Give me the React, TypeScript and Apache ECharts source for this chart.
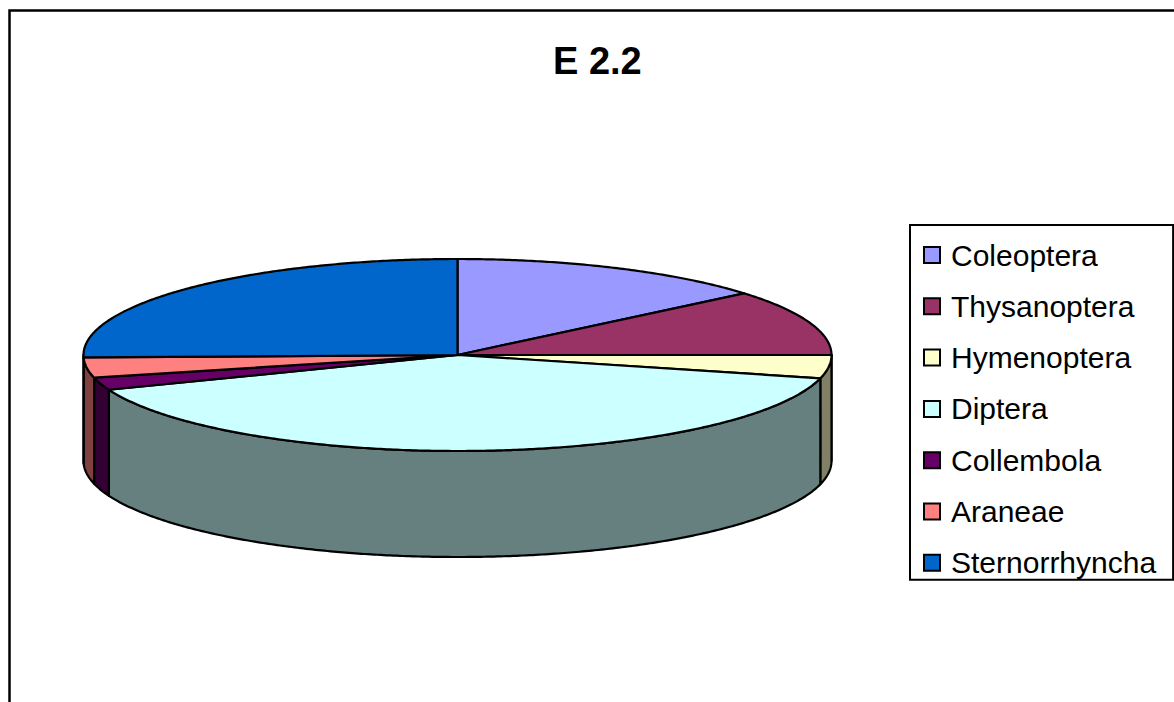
import React, { useEffect, useRef } from "react";
import * as echarts from "echarts";

// Insect orders found in sample E 2.2 (share of individuals, %)
const categories = [
  "Coleoptera",
  "Thysanoptera",
  "Hymenoptera",
  "Diptera",
  "Collembola",
  "Araneae",
  "Sternorrhyncha",
];
const shares = [13.9, 11.1, 3.9, 40.2, 2.1, 3.4, 25.4];
const topColors = ["#9999FF", "#993366", "#FFFFCC", "#CCFFFF", "#660066", "#FF8080", "#0066CC"];

// darker shade used for the outer wall of each slice
const shade = (hex: string) => {
  const n = parseInt(hex.slice(1), 16);
  const r = Math.round(((n >> 16) & 255) / 2);
  const g = Math.round(((n >> 8) & 255) / 2);
  const b = Math.round((n & 255) / 2);
  return `rgb(${r},${g},${b})`;
};

// tilted-disc geometry
const CX = 457.5;
const CY = 355;
const RX = 374;
const RY = 96;
const DEPTH = 106;

const rad = (d: number) => (d * Math.PI) / 180;
const rimPoint = (deg: number, dy = 0) => [CX + RX * Math.cos(rad(deg)), CY - RY * Math.sin(rad(deg)) + dy];

const arc = (from: number, to: number, dy = 0) => {
  const steps = Math.max(2, Math.ceil(Math.abs(from - to) / 0.5));
  const pts: number[][] = [];
  for (let i = 0; i <= steps; i++) pts.push(rimPoint(from + ((to - from) * i) / steps, dy));
  return pts;
};

const makeRenderItem = (idx: number) => (_params: any, api: any) => {
  const total = shares.reduce((s, v) => s + v, 0);
  let before = 0;
  for (let i = 0; i < idx; i++) before += shares[i];
  const value = api.value(0);
  // slices run clockwise from twelve o'clock
  const start = 90 - (before / total) * 360;
  const end = start - (value / total) * 360;

  const children: any[] = [];
  // visible outer wall: front half of the disc (-180..0 degrees)
  const a = Math.min(start, 0);
  const b = Math.max(end, -180);
  if (a > b) {
    const top = arc(a, b);
    const bottom = arc(b, a, DEPTH);
    children.push({
      type: "polygon",
      z2: 1,
      shape: { points: top.concat(bottom) },
      style: { fill: shade(topColors[idx]), stroke: "#000", lineWidth: 2.2, lineJoin: "round" },
    });
  }
  children.push({
    type: "polygon",
    z2: 10,
    shape: { points: [[CX, CY]].concat(arc(start, end)) },
    style: { fill: topColors[idx], stroke: "#000", lineWidth: 2.2, lineJoin: "round" },
  });
  return { type: "group", children };
};

export default function App() {
  const ref = useRef<HTMLDivElement>(null);

  useEffect(() => {
    if (!ref.current) return;
    const chart = echarts.init(ref.current, null, { renderer: "svg" });
    chart.setOption({
      animation: false,
      backgroundColor: "#fff",
      title: {
        text: "E 2.2",
        left: 548,
        top: 37,
        textStyle: { fontFamily: "Liberation Sans, Arial, sans-serif", fontSize: 38, fontWeight: "bold", color: "#000" },
      },
      legend: {
        orient: "vertical",
        left: 910,
        top: 225,
        padding: [15, 17, 2, 13],
        itemGap: 21.3,
        itemWidth: 16,
        itemHeight: 16,
        icon: "rect",
        backgroundColor: "#fff",
        borderColor: "#000",
        borderWidth: 2,
        borderRadius: 0,
        selectedMode: false,
        itemStyle: { borderColor: "#000", borderWidth: 2 },
        textStyle: {
          fontFamily: "Liberation Sans, Arial, sans-serif",
          fontSize: 30,
          color: "#000",
          padding: [0, 0, 0, 6],
        },
        data: categories.map((name, i) => ({ name, itemStyle: { color: topColors[i] } })),
      },
      graphic: [
        {
          type: "rect",
          silent: true,
          shape: { x: 9.5, y: 10.5, width: 1220, height: 760 },
          style: { fill: "none", stroke: "#000", lineWidth: 2.5 },
        },
      ],
      series: categories.map((name, i) => ({
        type: "custom",
        name,
        coordinateSystem: "none",
        itemStyle: { color: topColors[i] },
        renderItem: makeRenderItem(i),
        data: [[shares[i]]],
      })),
    });
    return () => chart.dispose();
  }, []);

  return <div ref={ref} style={{ position: "absolute", left: 0, top: 0, width: 1174, height: 702 }} />;
}
